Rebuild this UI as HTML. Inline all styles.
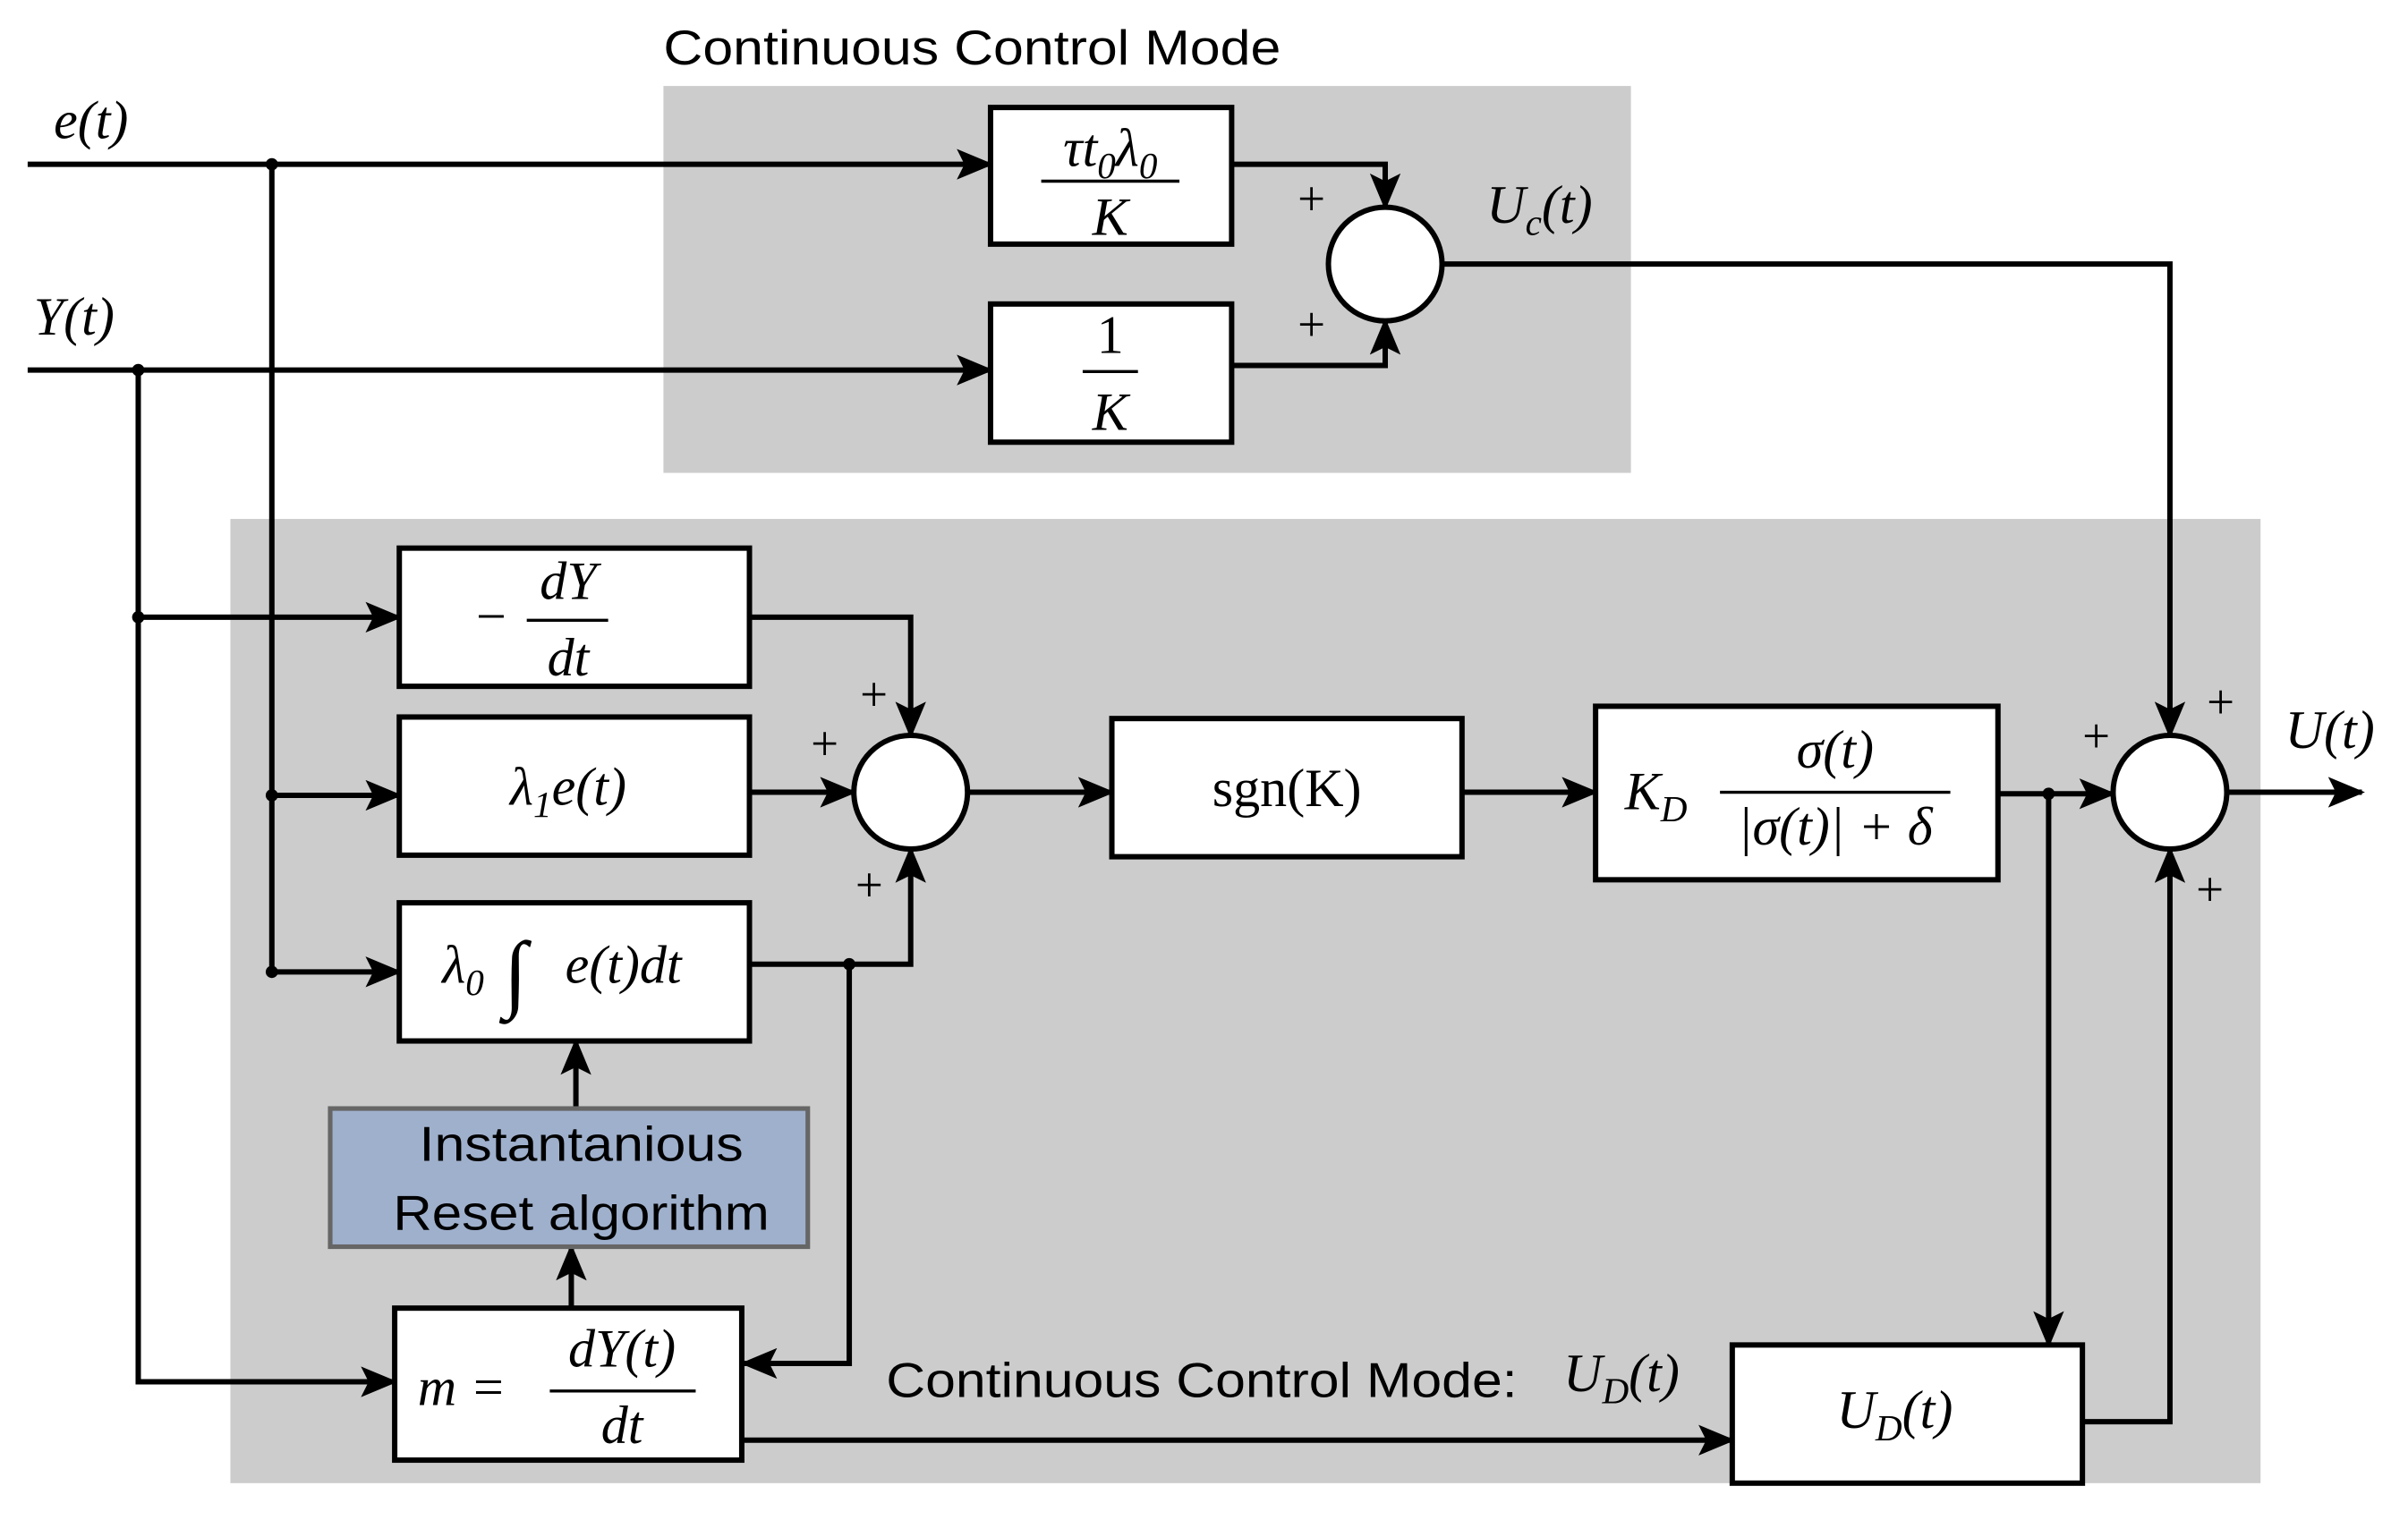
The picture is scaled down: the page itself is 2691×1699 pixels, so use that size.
<!DOCTYPE html>
<html><head><meta charset="utf-8"><style>
html,body{margin:0;padding:0;background:#fff;}
svg{display:block;}
.m{font-family:"Liberation Serif",serif;font-style:italic;}
.r{font-family:"Liberation Serif",serif;}
.s{font-family:"Liberation Sans","DejaVu Sans",sans-serif;}
</style></head><body>
<svg width="2691" height="1699" viewBox="0 0 1568 990" xmlns="http://www.w3.org/2000/svg">
<defs>
<marker id="b" markerWidth="24" markerHeight="20" refX="22" refY="10" orient="auto" markerUnits="userSpaceOnUse" viewBox="0 0 24 20"><path d="M0,0 L24,10 L0,20 L5,10 z" fill="#000"/></marker></defs>
<rect x="432" y="56" width="630" height="252" fill="#cccccc"/>
<rect x="150" y="338" width="1322" height="628" fill="#cccccc"/>
<text x="432" y="42" class="s" font-size="32" textLength="402" lengthAdjust="spacingAndGlyphs">Continuous Control Mode</text>
<g stroke="#000" stroke-width="3.5" fill="none">
<polyline points="18,107 645,107" marker-end="url(#b)"/>
<polyline points="177,107 177,633"/>
<polyline points="18,241 645,241" marker-end="url(#b)"/>
<polyline points="90,241 90,900 257,900" marker-end="url(#b)"/>
<polyline points="802,107 902,107 902,135" marker-end="url(#b)"/>
<polyline points="802,238 902,238 902,209" marker-end="url(#b)"/>
<polyline points="939,172 1413,172 1413,479" marker-end="url(#b)"/>
<polyline points="90,402 260,402" marker-end="url(#b)"/>
<polyline points="177,518 260,518" marker-end="url(#b)"/>
<polyline points="177,633 260,633" marker-end="url(#b)"/>
<polyline points="488,402 593,402 593,479" marker-end="url(#b)"/>
<polyline points="488,516 556,516" marker-end="url(#b)"/>
<polyline points="488,628 593,628 593,553" marker-end="url(#b)"/>
<polyline points="553,628 553,888 484,888" marker-end="url(#b)"/>
<polyline points="630,516 724,516" marker-end="url(#b)"/>
<polyline points="952,516 1039,516" marker-end="url(#b)"/>
<polyline points="1301,517 1376,517" marker-end="url(#b)"/>
<polyline points="1334,517 1334,876" marker-end="url(#b)"/>
<polyline points="1450,516 1538,516" marker-end="url(#b)"/>
<polyline points="1356,926 1413,926 1413,553" marker-end="url(#b)"/>
<polyline points="375,722 375,678" marker-end="url(#b)"/>
<polyline points="372,852 372,812" marker-end="url(#b)"/>
<polyline points="483,938 1128,938" marker-end="url(#b)"/>
</g>
<g fill="#000"><circle cx="177" cy="107" r="4"/><circle cx="90" cy="241" r="4"/><circle cx="90" cy="402" r="4"/><circle cx="177" cy="518" r="4"/><circle cx="177" cy="633" r="4"/><circle cx="553" cy="628" r="4"/><circle cx="1334" cy="517" r="4"/></g>
<g stroke="#000" stroke-width="3.5" fill="#fff">
<rect x="645" y="70" width="157" height="89"/>
<rect x="645" y="198" width="157" height="90"/>
<circle cx="902" cy="172" r="37"/>
<rect x="260" y="357" width="228" height="90"/>
<rect x="260" y="467" width="228" height="90"/>
<rect x="260" y="588" width="228" height="90"/>
<circle cx="593" cy="516" r="37"/>
<rect x="724" y="468" width="228" height="90"/>
<rect x="1039" y="460" width="262" height="113"/>
<circle cx="1413" cy="516" r="37"/>
<rect x="1128" y="876" width="228" height="90"/>
<rect x="257" y="852" width="226" height="99"/>
</g>
<rect x="215" y="722" width="311" height="90" fill="#9fb0cc" stroke="#666" stroke-width="3"/>
<text x="273" y="756" class="s" font-size="32" textLength="211" lengthAdjust="spacingAndGlyphs">Instantanious</text>
<text x="256" y="801" class="s" font-size="32" textLength="245" lengthAdjust="spacingAndGlyphs">Reset algorithm</text>
<g font-size="35">
<text x="35" y="90" class="m">e(t)</text>
<text x="22" y="218" class="m">Y(t)</text>
<text x="968" y="145" class="m">U<tspan font-size="24" dy="8">c</tspan><tspan dy="-8">(t)</tspan></text>
<text x="1488" y="487" class="m">U(t)</text>
<text x="723" y="108" class="m" text-anchor="middle">τt<tspan font-size="24" dy="8" class="r">0</tspan><tspan dy="-8">λ</tspan><tspan font-size="24" dy="8" class="r">0</tspan></text>
<line x1="678" y1="118" x2="768" y2="118" stroke="#000" stroke-width="2"/>
<text x="723" y="153" class="m" text-anchor="middle">K</text>
<text x="723" y="230" class="r" text-anchor="middle">1</text>
<line x1="705" y1="242" x2="741" y2="242" stroke="#000" stroke-width="2"/>
<text x="723" y="280" class="m" text-anchor="middle">K</text>
<text x="310" y="413" class="r">−</text>
<text x="370" y="390" class="m" text-anchor="middle">dY</text>
<line x1="343" y1="404" x2="396" y2="404" stroke="#000" stroke-width="2"/>
<text x="370" y="440" class="m" text-anchor="middle">dt</text>
<text x="370" y="524" class="m" text-anchor="middle">λ<tspan font-size="24" dy="8" class="r">1</tspan><tspan dy="-8">e(t)</tspan></text>
<text x="288" y="640" class="m">λ<tspan font-size="24" dy="8" class="r">0</tspan></text>
<text x="328" y="652" class="m" font-size="56">∫</text>
<text x="368" y="640" class="m">e(t)dt</text>
<text x="838" y="525" class="r" text-anchor="middle">sgn(K)</text>
<text x="1058" y="527" class="m">K<tspan font-size="24" dy="8">D</tspan></text>
<text x="1195" y="500" class="m" text-anchor="middle">σ(t)</text>
<line x1="1120" y1="516" x2="1270" y2="516" stroke="#000" stroke-width="2"/>
<text x="1195" y="550" class="m" text-anchor="middle">|σ(t)| + δ</text>
<text x="1196" y="930" class="m">U<tspan font-size="24" dy="8">D</tspan><tspan dy="-8">(t)</tspan></text>
<text x="272" y="915" class="m">m =</text>
<text x="405" y="890" class="m" text-anchor="middle">dY(t)</text>
<line x1="358" y1="906" x2="453" y2="906" stroke="#000" stroke-width="2"/>
<text x="405" y="940" class="m" text-anchor="middle">dt</text>
<text x="1018" y="906" class="m">U<tspan font-size="24" dy="8">D</tspan><tspan dy="-8">(t)</tspan></text>
</g>
<text x="577" y="910" class="s" font-size="32" textLength="411" lengthAdjust="spacingAndGlyphs">Continuous Control Mode:</text>
<g class="r" font-size="32">
<text x="845" y="140">+</text><text x="845" y="222">+</text>
<text x="560" y="463">+</text><text x="528" y="495">+</text><text x="557" y="587">+</text>
<text x="1356" y="490">+</text><text x="1437" y="468">+</text><text x="1430" y="590">+</text>
</g>
</svg>
</body></html>
